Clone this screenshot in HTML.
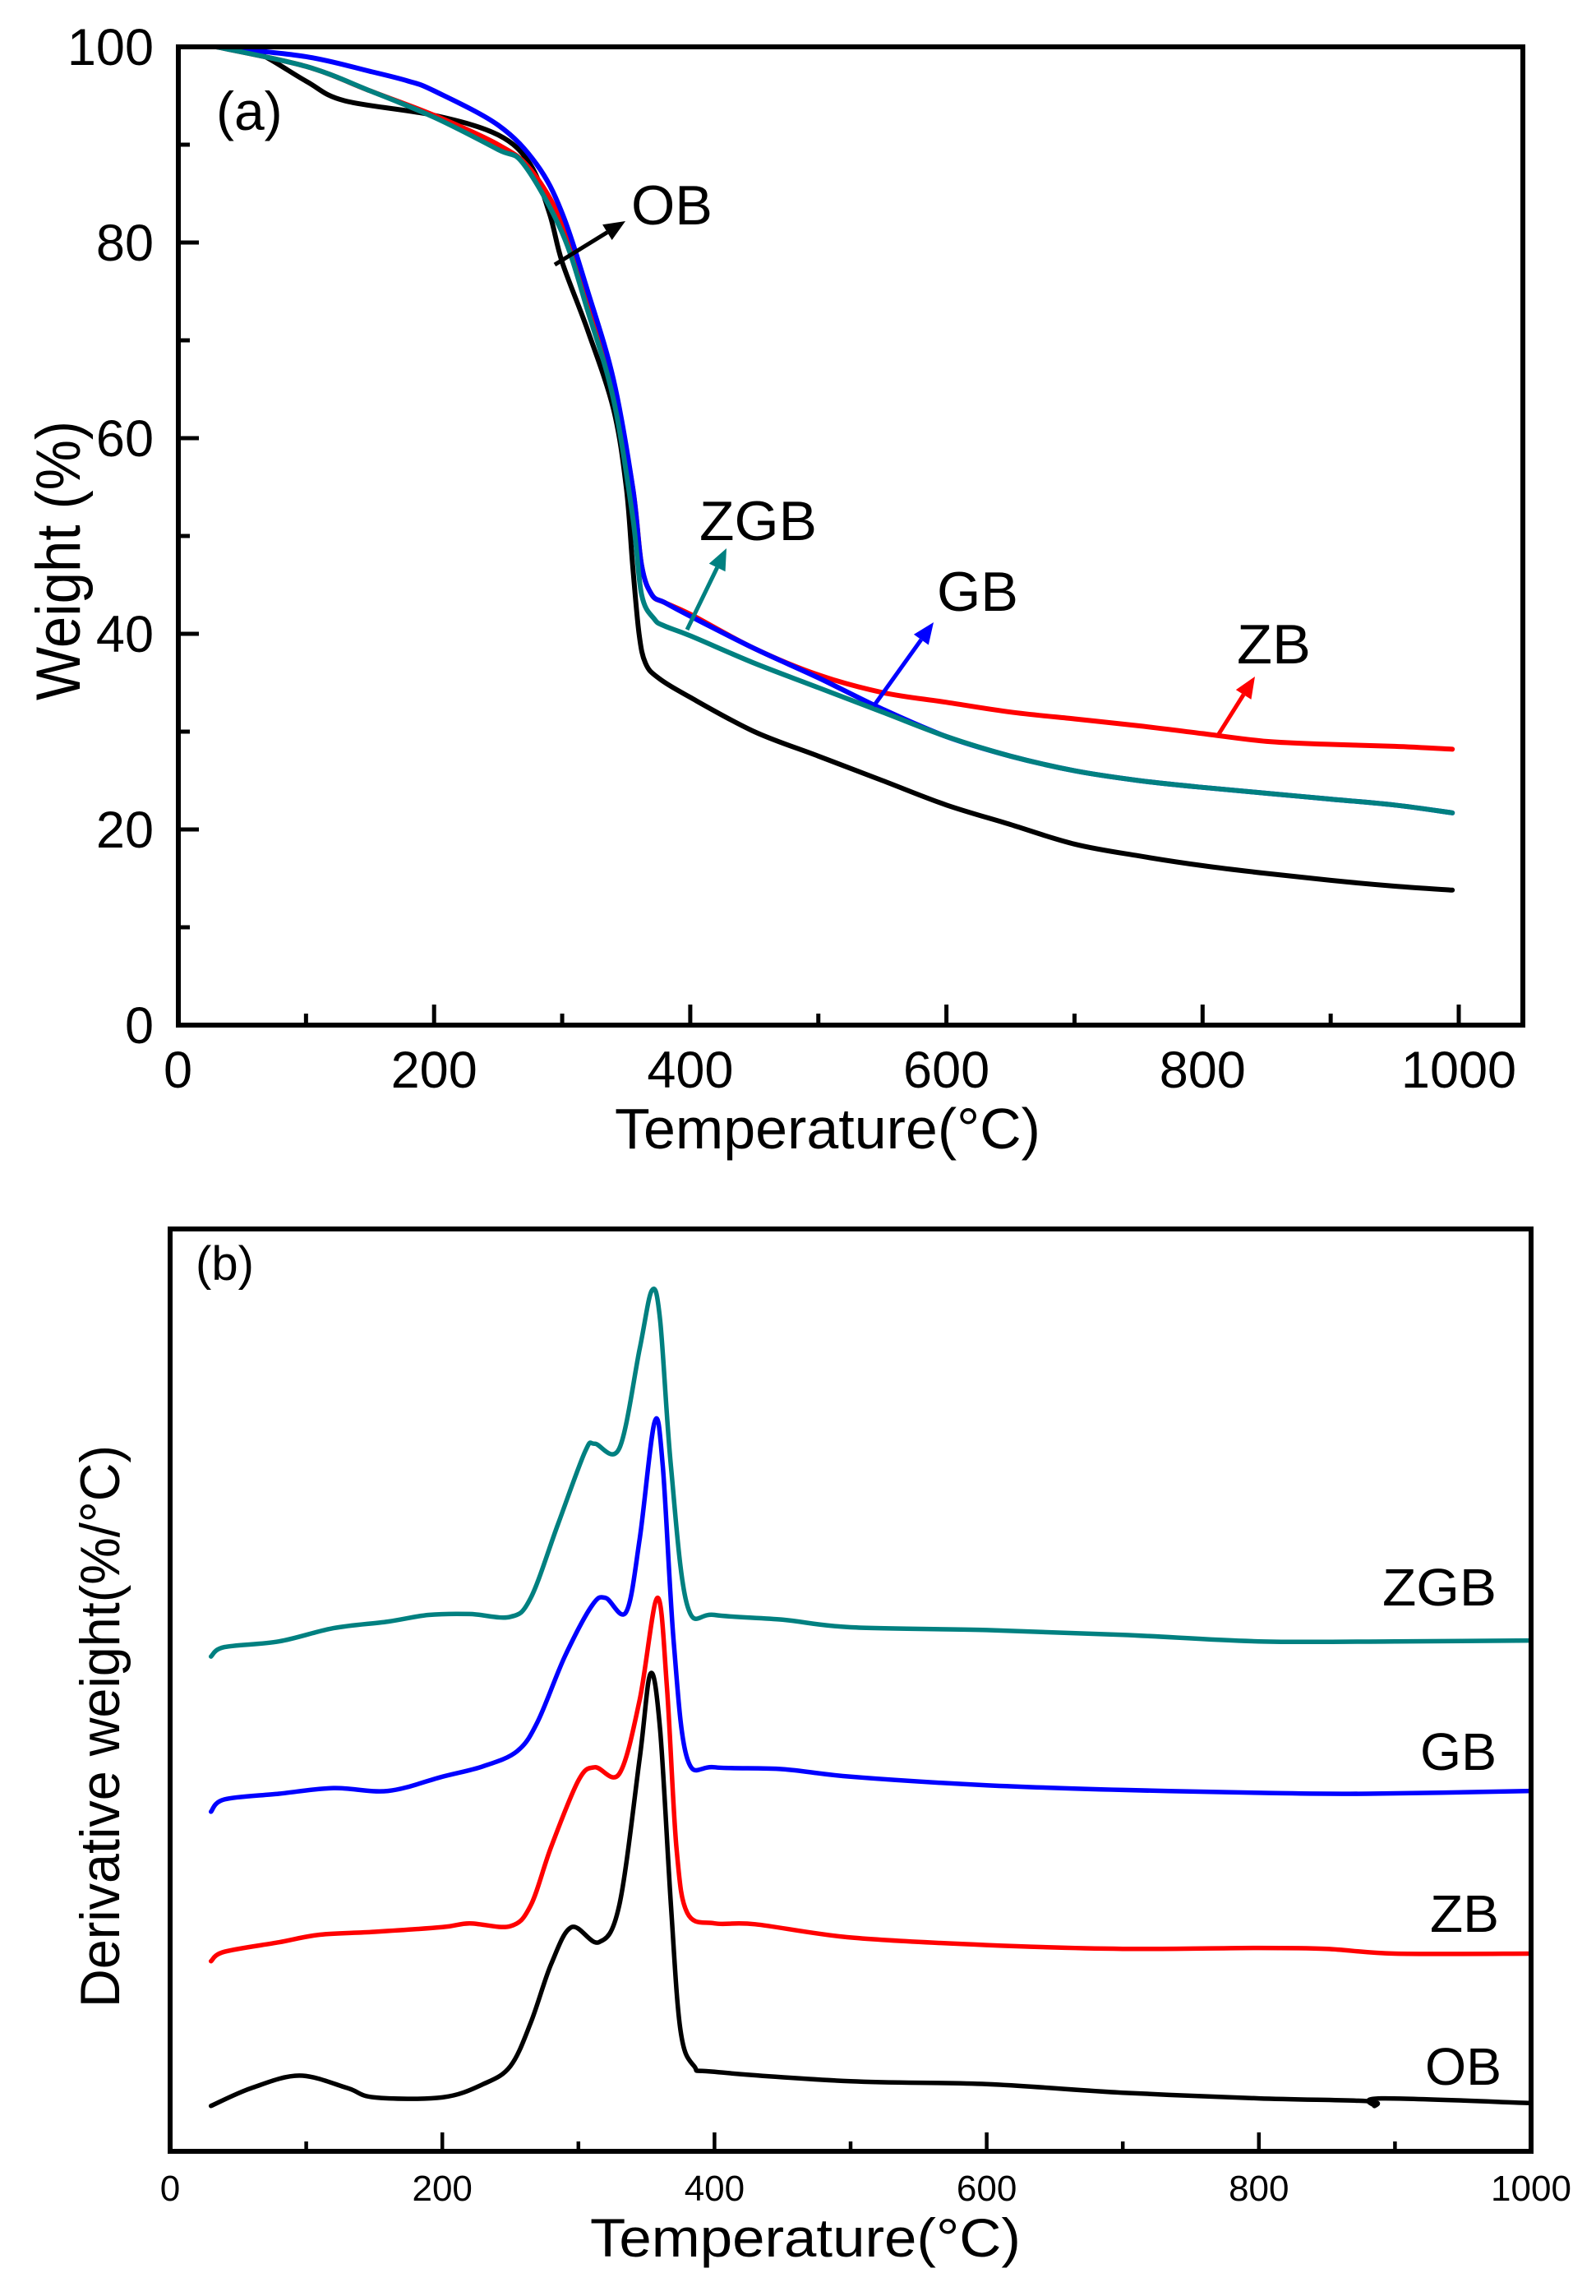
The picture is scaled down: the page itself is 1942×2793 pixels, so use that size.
<!DOCTYPE html>
<html><head><meta charset="utf-8"><style>
html,body{margin:0;padding:0;background:#fff;}
svg{display:block;font-family:"Liberation Sans",Arial,sans-serif;}
</style></head><body>
<svg id="fig" width="1942" height="2793" viewBox="0 0 1942 2793">
<rect width="1942" height="2793" fill="#fff"/>
</svg>
<script>
// ---- Panel (a) TGA data ----
const tgaTemps_OB  = [30,60,100,130,200,250,275,290,300,320,340,350,355,360,365,375,400,450,500,550,600,650,700,750,800,850,900,950,995];
const tgaW_OB      = [100,99.5,96.5,94.5,93,91,88,83,78,71,63,55,47,40,37,35.5,33.5,30,27.5,25,22.5,20.5,18.5,17.3,16.3,15.5,14.8,14.2,13.8];
const tgaTemps_ZB  = [30,100,150,200,250,275,300,320,340,355,362,370,380,400,450,500,550,600,650,700,750,800,850,900,950,995];
const tgaW_ZB      = [100,98,95.5,93,90,87.5,82,74,65,55,47,44,43.2,42,38.5,35.8,34,33,32,31.3,30.6,29.8,29,28.7,28.5,28.2];
const tgaTemps_GB  = [30,100,150,180,200,250,280,300,320,340,355,362,370,380,400,450,500,550,600,650,700,750,800,850,900,950,995];
const tgaW_GB      = [100,99,97.5,96.5,95.5,92,88,83,75,66,55,47,44,43.2,41.8,38.5,35.5,32.3,29.5,27.5,26,25,24.3,23.7,23.1,22.5,21.7];
const tgaTemps_ZGB = [30,100,150,200,250,270,300,320,340,355,362,372,380,400,450,500,550,600,650,700,750,800,850,900,950,995];
const tgaW_ZGB     = [100,98,95.5,92.8,89.5,88,81,73,64,52,44,41.5,40.8,39.8,37,34.5,32,29.5,27.5,26,25,24.3,23.7,23.1,22.5,21.7];
const aXTicks = [0,200,400,600,800,1000];
const aYTicks = [0,20,40,60,80,100];

// ---- Panel (b) DTG data (arbitrary units, offset curves) ----
const dtgT_OB  = [30,60,95,130,150,200,230,250,265,280,295,315,330,345,353,360,368,375,385,400,500,600,700,800,880,885,890,1000];
const dtgV_OB  = [4.8,6.7,8.0,6.7,5.7,5.7,7.1,9.0,13.6,19.8,23.7,22.1,26.0,41.5,50.5,44.6,26.0,12.8,9.0,8.4,7.4,7.1,6.2,5.6,5.3,4.8,5.6,5.1];
const dtgT_ZB  = [30,40,80,110,150,200,220,250,265,280,300,312,330,345,358,365,372,380,400,430,500,600,700,800,850,900,1000];
const dtgV_ZB  = [20.1,21.1,22.1,22.9,23.2,23.7,24.1,23.8,26.0,32.2,39.2,40.6,39.9,47.7,58.5,49.2,32.2,25.2,24.1,24.0,22.6,21.8,21.4,21.5,21.4,20.9,20.9];
const dtgT_GB  = [30,40,80,120,160,200,230,255,270,290,310,320,335,345,356,362,370,380,400,450,500,600,700,800,880,1000];
const dtgV_GB  = [35.9,37.2,37.8,38.4,38.1,39.6,40.7,42.3,45.4,52.3,57.7,58.5,57.0,64.7,77.1,72.4,53.9,41.5,40.6,40.4,39.6,38.7,38.2,37.9,37.8,38.1];
const dtgT_ZGB = [30,40,80,120,160,190,220,250,265,285,305,312,330,345,354,360,368,380,400,450,500,600,700,800,900,1000];
const dtgV_ZGB = [52.3,53.3,53.9,55.3,56.0,56.7,56.8,56.5,58.5,66.3,74.0,74.8,74.3,84.8,91.0,87.9,72.4,57.7,56.7,56.2,55.4,55.1,54.6,53.9,53.9,54.0];
const bXTicks = [0,200,400,600,800,1000];

const NS="http://www.w3.org/2000/svg";
const svg=document.getElementById('fig');
function mk(tag,attrs,parent){const e=document.createElementNS(NS,tag);for(const k in attrs)e.setAttribute(k,attrs[k]);(parent||svg).appendChild(e);return e;}

const A={x0:216.5,x1:1775,y0:1247,y1:57,L:217,R:1853,T:57,B:1247};
const ax=t=>A.x0+(t/1000)*(A.x1-A.x0);
const ay=w=>A.y0-(w/100)*(A.y0-A.y1);
const B={L:207,R:1863,T:1495,B:2617,vmax:97.5};
const bx=t=>B.L+(t/1000)*(B.R-B.L);
const by=v=>B.B-(v/B.vmax)*(B.B-B.T);

function smoothPath(xs,ys){
  const p=xs.map((x,i)=>[x,ys[i]]);
  let d=`M${p[0][0].toFixed(1)},${p[0][1].toFixed(1)}`;
  for(let i=0;i<p.length-1;i++){
    const p0=p[i-1]||p[i],p1=p[i],p2=p[i+1],p3=p[i+2]||p2;
    const c1=[p1[0]+(p2[0]-p0[0])/6,p1[1]+(p2[1]-p0[1])/6];
    const c2=[p2[0]-(p3[0]-p1[0])/6,p2[1]-(p3[1]-p1[1])/6];
    d+=`C${c1[0].toFixed(1)},${c1[1].toFixed(1)} ${c2[0].toFixed(1)},${c2[1].toFixed(1)} ${p2[0].toFixed(1)},${p2[1].toFixed(1)}`;
  }
  return d;
}

// ===== Panel (a) =====
const ga=mk('g',{});


const seriesA=[[tgaTemps_OB,tgaW_OB,'#000','ob'],[tgaTemps_ZB,tgaW_ZB,'#ff0000','zb'],[tgaTemps_GB,tgaW_GB,'#0000ff','gb'],[tgaTemps_ZGB,tgaW_ZGB,'#008080','zgb']];
for(const s of seriesA){
  const p=mk('path',{d:smoothPath(s[0].map(ax),s[1].map(ay)),fill:'none',stroke:s[2],'stroke-width':6,'stroke-linejoin':'round','stroke-linecap':'round'},ga);
  
  
}
const fa=mk('rect',{x:A.L,y:A.T,width:A.R-A.L,height:A.B-A.T,fill:'none',stroke:'#000','stroke-width':6},ga);


for(let t=0;t<=1000;t+=100){
  const maj=t%200===0;
  const tk=mk('line',{x1:ax(t),x2:ax(t),y1:A.B,y2:A.B-(maj?25:14),stroke:'#000','stroke-width':5},ga);
  
  
}
for(let w=0;w<=100;w+=10){
  const maj=w%20===0;
  const tk=mk('line',{x1:A.L,x2:A.L+(maj?25:14),y1:ay(w),y2:ay(w),stroke:'#000','stroke-width':5},ga);
  
  
}
for(const t of aXTicks){
  const tx=mk('text',{x:ax(t),y:1323,'font-size':63,'text-anchor':'middle'},ga);
  tx.textContent=t;
  
  
}
for(const w of aYTicks){
  const tx=mk('text',{x:187,y:ay(w)+22,'font-size':63,'text-anchor':'end'},ga);
  tx.textContent=w;
  
  
}
let t1=mk('text',{x:748,y:1397,'font-size':70,textLength:518,lengthAdjust:'spacingAndGlyphs'},ga);
t1.textContent='Temperature(°C)';


let t2=mk('text',{x:0,y:0,'font-size':76,textLength:340,lengthAdjust:'spacingAndGlyphs','text-anchor':'middle',transform:'translate(97,682) rotate(-90)'},ga);
t2.textContent='Weight (%)';


let pa=mk('text',{x:263,y:158,'font-size':66},ga);
pa.textContent='(a)';



function arrow(x1,y1,x2,y2,color,name,g){
  const ang=Math.atan2(y2-y1,x2-x1),L=26,W=11;
  const bxp=x2-L*Math.cos(ang),byp=y2-L*Math.sin(ang);
  const ln=mk('line',{x1:x1,y1:y1,x2:bxp,y2:byp,stroke:color,'stroke-width':5},g);
  
  
  const pts=[[x2,y2],[bxp+W*Math.sin(ang),byp-W*Math.cos(ang)],[bxp-W*Math.sin(ang),byp+W*Math.cos(ang)]];
  const hd=mk('polygon',{points:pts.map(p=>p.join(',')).join(' '),fill:color},g);
  
  
}
arrow(675,322,761,269,'#000','arrow-ob',ga);
arrow(836,766,884,667,'#008080','arrow-zgb',ga);
arrow(1063,859,1136,757,'#0000ff','arrow-gb',ga);
arrow(1481,896,1527,823,'#ff0000','arrow-zb',ga);
const labsA=[['OB',768,273,99],['ZGB',851,657,143],['GB',1140,743,99],['ZB',1505,807,90]];
for(const l of labsA){
  const tx=mk('text',{x:l[1],y:l[2],'font-size':68,textLength:l[3],lengthAdjust:'spacingAndGlyphs'},ga);
  tx.textContent=l[0];
  
  
}

// ===== Panel (b) =====
const gb=mk('g',{});


const seriesB=[[dtgT_ZGB,dtgV_ZGB,'#008080','zgb'],[dtgT_GB,dtgV_GB,'#0000ff','gb'],[dtgT_ZB,dtgV_ZB,'#ff0000','zb'],[dtgT_OB,dtgV_OB,'#000','ob']];
for(const s of seriesB){
  const p=mk('path',{d:smoothPath(s[0].map(bx),s[1].map(by)),fill:'none',stroke:s[2],'stroke-width':5.5,'stroke-linejoin':'round','stroke-linecap':'round'},gb);
  
  
}
const fb=mk('rect',{x:B.L,y:B.T,width:B.R-B.L,height:B.B-B.T,fill:'none',stroke:'#000','stroke-width':6},gb);


for(let t=100;t<1000;t+=100){
  const maj=t%200===0;
  const tk=mk('line',{x1:bx(t),x2:bx(t),y1:B.B,y2:B.B-(maj?23:12),stroke:'#000','stroke-width':4.5},gb);
  
  
}
for(const t of bXTicks){
  const tx=mk('text',{x:bx(t),y:2677,'font-size':44,'text-anchor':'middle'},gb);
  tx.textContent=t;
  
  
}
let t3=mk('text',{x:718,y:2745,'font-size':66,textLength:524,lengthAdjust:'spacingAndGlyphs'},gb);
t3.textContent='Temperature(°C)';


let t4=mk('text',{x:0,y:0,'font-size':68,textLength:684,lengthAdjust:'spacingAndGlyphs','text-anchor':'middle',transform:'translate(145,2100) rotate(-90)'},gb);
t4.textContent='Derivative weight(%/°C)';


let pb=mk('text',{x:238,y:1557,'font-size':58},gb);
pb.textContent='(b)';


const labsB=[['ZGB',1682,1953,139],['GB',1728,2153,93],['ZB',1740,2350,84],['OB',1734,2536,93]];
for(const l of labsB){
  const tx=mk('text',{x:l[1],y:l[2],'font-size':64,textLength:l[3],lengthAdjust:'spacingAndGlyphs'},gb);
  tx.textContent=l[0];
  
  
}
</script>
</body></html>
